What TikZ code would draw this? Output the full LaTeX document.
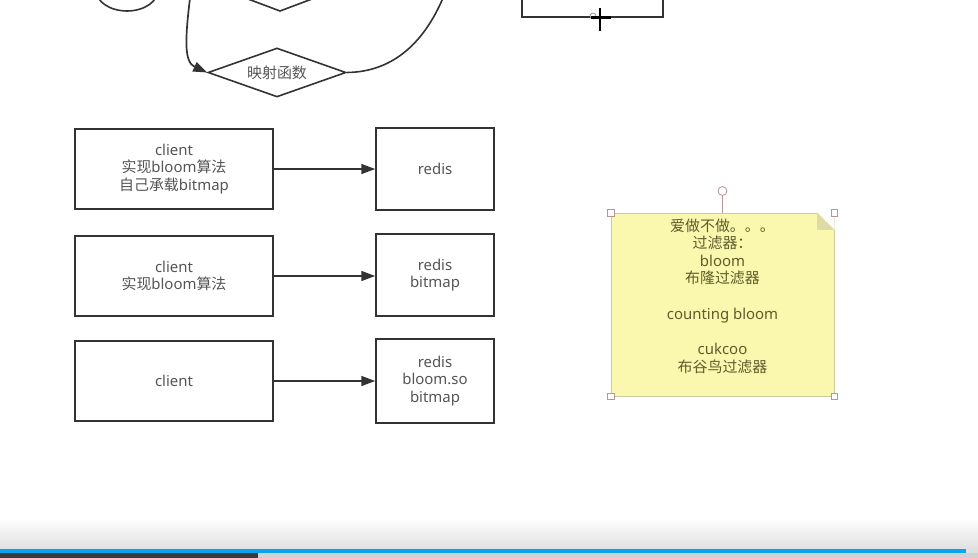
\documentclass[tikz,border=0pt]{standalone}
\usepackage{fontspec}
\setmainfont{Noto Sans}
\newfontfamily\cjk{Noto Sans CJK SC}
\usetikzlibrary{arrows.meta,shapes.geometric}
\definecolor{lineC}{HTML}{333333}
\definecolor{textC}{HTML}{555555}
\definecolor{noteFill}{HTML}{FAF8AE}
\definecolor{noteLine}{HTML}{CFCBA0}
\definecolor{noteText}{HTML}{5E5C2A}
\definecolor{foldC}{HTML}{DEDBA6}
\definecolor{handleC}{HTML}{B89494}
\definecolor{blueC}{HTML}{0AA2F2}
\definecolor{darkC}{HTML}{3A3A3A}
\tikzset{
  boxnode/.style={draw=lineC, line width=1.6pt, fill=white, align=center,
    text=textC, inner sep=0pt, font=\fontsize{15}{17.7}\selectfont},
  arr/.style={draw=lineC, line width=1.7pt, -{Triangle[length=14pt,width=10pt]}},
  plainline/.style={draw=lineC, line width=1.6pt},
  handle/.style={draw=handleC, fill=white, line width=0.8pt, minimum size=7pt, inner sep=0pt},
}
\begin{document}
\begin{tikzpicture}[x=1bp,y=-1bp]
\useasboundingbox (0,0) rectangle (978,558);
\fill[white] (0,0) rectangle (978,558);
\begin{scope}
\clip (0,0) rectangle (978,558);
% partial shapes at the top
\draw[plainline] (127,-10) ellipse [x radius=31bp, y radius=21bp];
\draw[plainline] (248,-1) -- (280,11) -- (312,-1);
\draw[plainline] (522,-5) -- (522,17) -- (663,17) -- (663,-5);
% mapping diamond
\node[draw=lineC, line width=1.6pt, shape=diamond, aspect=2.8, minimum width=138bp,
  minimum height=49bp, inner sep=0pt, text=textC, font=\fontsize{15}{17.7}\selectfont]
  (map) at (277,72.5) {\cjk 映射函数};
\coordinate (ltop) at (190,-2);
\coordinate (rtop) at (443,-2);
\draw[arr] (ltop) .. controls (185,40) and (184,62) .. (map.west);
\draw[plainline] (map.east) .. controls (395,72) and (425,40) .. (rtop);
\end{scope}
% cursor on the top rectangle
\draw[gray, fill=white, line width=0.6pt] (593,16) circle [radius=3bp];
\draw[black, line width=2pt] (600,8) -- (600,31);
\draw[black, line width=2.4pt] (591,17.5) -- (611,17.5);

% client / redis rows
\node[boxnode, minimum width=198bp, minimum height=80bp] (c1) at (174,169)
  {client\\{\cjk 实现}bloom{\cjk 算法}\\{\cjk 自己承载}bitmap};
\node[boxnode, minimum width=118bp, minimum height=82bp] (r1) at (435,169) {redis};
\node[boxnode, minimum width=198bp, minimum height=80bp] (c2) at (174,276)
  {client\\{\cjk 实现}bloom{\cjk 算法}};
\node[boxnode, minimum width=118bp, minimum height=82bp] (r2) at (435,275) {redis\\bitmap};
\node[boxnode, minimum width=198bp, minimum height=80bp] (c3) at (174,381) {client};
\node[boxnode, minimum width=118bp, minimum height=84bp] (r3) at (435,381)
  {redis\\bloom.so\\bitmap};
\draw[arr] (c1.east) -- (c1.east -| r1.west);
\draw[arr] (c2.east) -- (c2.east -| r2.west);
\draw[arr] (c3.east) -- (c3.east -| r3.west);

% sticky note
\node[draw=noteLine, fill=noteFill, line width=0.8pt, minimum width=223bp, minimum height=183bp,
  inner sep=0pt] (note) at (722.5,304.5) {};
\fill[white] (817,212.5) -- (834.5,212.5) -- (834.5,230) -- cycle;
\fill[foldC] (817,212.5) -- (817,230) -- (834.5,230) -- cycle;
\node[align=center, text=noteText, font=\fontsize{15}{17.7}\selectfont, anchor=north]
  (notetext) at (722.5,215)
  {{\cjk 爱做不做。。。}\\{\cjk 过滤器：}\\bloom\\{\cjk 布隆过滤器}\\[17.7pt]counting bloom\\[17.7pt]cukcoo\\{\cjk 布谷鸟过滤器}};
\node[handle] (h1) at (note.north west) {};
\node[handle] (h2) at (note.north east) {};
\node[handle] (h3) at (note.south west) {};
\node[handle] (h4) at (note.south east) {};
\node[draw=handleC, fill=white, line width=0.8pt, circle, minimum size=9pt, inner sep=0pt]
  (rot) at (722.5,191) {};
\draw[handleC, line width=0.8pt] (rot) -- (note.north);

% bottom bar
\shade[top color=white, bottom color=black!12] (0,518) rectangle (978,549);
\fill[blueC] (0,549) rectangle (966,553);
\fill[black!12] (966,549) rectangle (978,553);
\fill[black!18] (0,553) rectangle (978,558);
\fill[darkC] (0,553) rectangle (258,558);
\end{tikzpicture}
\end{document}
